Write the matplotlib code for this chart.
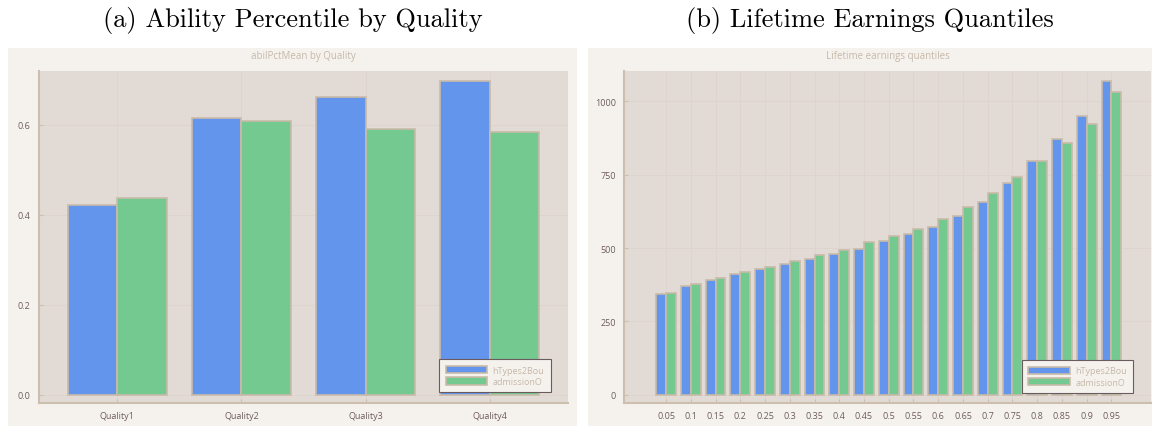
import matplotlib
matplotlib.use('Agg')
import matplotlib.pyplot as plt
from matplotlib.patches import Rectangle, Patch
import numpy as np

# data
quality_labels = ['Quality1', 'Quality2', 'Quality3', 'Quality4']
abil_htypes = [0.421, 0.615, 0.661, 0.696]
abil_admission = [0.436, 0.608, 0.591, 0.583]

quantile_labels = ['0.05', '0.1', '0.15', '0.2', '0.25', '0.3', '0.35', '0.4', '0.45', '0.5',
                   '0.55', '0.6', '0.65', '0.7', '0.75', '0.8', '0.85', '0.9', '0.95']
earn_htypes = [343, 372, 390, 411, 428, 445, 463, 480, 498, 523,
               547, 572, 608, 658, 720, 795, 870, 951, 1068]
earn_admission = [348, 377, 398, 418, 435, 457, 476, 492, 519, 542,
                  566, 598, 641, 688, 743, 795, 858, 923, 1033]

series_names = ['hTypes2Bou', 'admissionO']

# style
BLUE = '#6495ed'
GREEN = '#74c991'
EDGE = '#c9bba9'
PANEL_BG = '#f5f2ee'
AX_BG = '#e2dbd5'
GRID = '#dcd3ca'
SPINE = '#cdbfb0'
TICK_TXT = '#6e5c5e'
LIGHT_TXT = '#c6b8a9'
FONT = 'Open Sans'

W, H = 1155, 427
fig = plt.figure(figsize=(W / 100, H / 100), dpi=100)
fig.patch.set_facecolor('white')


def px_box(x0, y0, x1, y1):
    # pixel box (top-left origin) -> figure fraction [l, b, w, h]
    return [x0 / W, (H - y1) / H, (x1 - x0) / W, (y1 - y0) / H]


def panel(bg_box, ax_box, title, inner_title, labels, s1, s2, yticks, yticklabels, ylim, leg_anchor):
    l, b, w, h = px_box(*bg_box)
    fig.add_artist(Rectangle((l, b), w, h, transform=fig.transFigure,
                             facecolor=PANEL_BG, edgecolor='none', zorder=0))
    ax = fig.add_axes(px_box(*ax_box))
    ax.set_facecolor(AX_BG)
    x = np.arange(1, len(labels) + 1)
    bw = 0.4
    ax.bar(x - bw / 2, s1, width=bw, color=BLUE, edgecolor=EDGE, linewidth=1.2, zorder=3)
    ax.bar(x + bw / 2, s2, width=bw, color=GREEN, edgecolor=EDGE, linewidth=1.2, zorder=3)
    ax.set_xticks(x)
    ax.set_xticklabels(labels, fontsize=6.5, color=TICK_TXT, family=FONT)
    ax.set_yticks(yticks)
    ax.set_yticklabels(yticklabels, fontsize=6.5, color=TICK_TXT, family=FONT)
    ax.set_ylim(*ylim)
    ax.grid(True, color=GRID, linewidth=0.5, zorder=0)
    ax.set_axisbelow(True)
    for s in ['top', 'right']:
        ax.spines[s].set_visible(False)
    for s in ['left', 'bottom']:
        ax.spines[s].set_color(SPINE)
        ax.spines[s].set_linewidth(1.5)
    ax.tick_params(direction='in', length=3, color=SPINE, pad=6)
    ax.set_title(inner_title, fontsize=7, color=LIGHT_TXT, family=FONT, pad=9)
    # big caption above the panel
    cx = (bg_box[0] + bg_box[2]) / 2 / W
    fig.text(cx, 1 - 20 / H, title, ha='center', va='center', fontsize=19, family='cmr10')
    handles = [Patch(facecolor=BLUE, edgecolor=EDGE, linewidth=1.2),
               Patch(facecolor=GREEN, edgecolor=EDGE, linewidth=1.2)]
    leg = ax.legend(handles, series_names, loc='lower right', bbox_to_anchor=leg_anchor,
                    prop={'family': FONT, 'size': 6.5}, labelcolor=LIGHT_TXT,
                    fancybox=False, framealpha=1, facecolor=PANEL_BG, edgecolor='#6b5a5e',
                    handlelength=4.6, handleheight=0.9, handletextpad=0.6, labelspacing=0.25,
                    borderpad=0.7, borderaxespad=0)
    leg.get_frame().set_linewidth(0.8)
    return ax


ax1 = panel((8, 49, 577, 427), (39, 72, 568, 404),
            '(a) Ability Percentile by Quality', 'abilPctMean by Quality',
            quality_labels, abil_htypes, abil_admission,
            [0.0, 0.2, 0.4, 0.6], ['0.0', '0.2', '0.4', '0.6'], (-0.0184, 0.719),
            (0.967, 0.032))
ax1.set_xlim(0.37, 4.63)

ax2 = panel((588, 49, 1152, 427), (624, 72, 1151, 404),
            '(b) Lifetime Earnings Quantiles', 'Lifetime earnings quantiles',
            quantile_labels, earn_htypes, earn_admission,
            [0, 250, 500, 750, 1000], ['0', '250', '500', '750', '1000'], (-28, 1103),
            (0.966, 0.030))
ax2.set_xlim(-0.7, 20.6)

fig.savefig('out.png', dpi=100)
